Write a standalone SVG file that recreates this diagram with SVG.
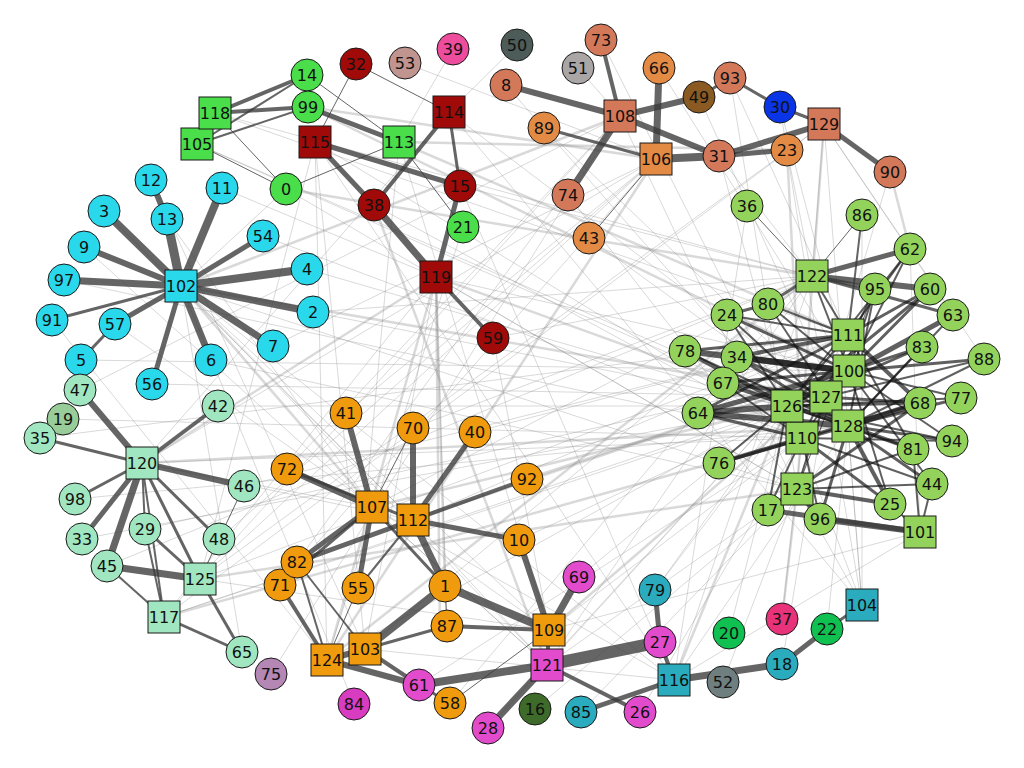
<svg xmlns="http://www.w3.org/2000/svg" width="1024" height="768" viewBox="0 0 1024 768">
<style>
.s{stroke:#3a3a3a;stroke-opacity:.78;fill:none}
.d{stroke:#141414;stroke-opacity:.68}
.f{stroke:#8a8a8a;stroke-opacity:.32;fill:none}
.w1{stroke-width:1}.w2{stroke-width:2}.w3{stroke-width:3}.w4{stroke-width:4}.w5{stroke-width:5}.w6{stroke-width:6}.w7{stroke-width:7}.w8{stroke-width:8}.w9{stroke-width:9}.w12{stroke-width:12}
.f1{stroke-width:1}.f2{stroke-width:2.5}.f3{stroke-width:5}
circle,rect{stroke:#1a1a1a;stroke-width:1}
text{font-family:"DejaVu Sans","Liberation Sans",sans-serif;font-size:16px;fill:#111;text-anchor:middle;dominant-baseline:central}
.cy{fill:#29d8ea}.gr{fill:#4ade4a}.dr{fill:#a00a08}.sa{fill:#d4785a}.or2{fill:#e38b45}.br{fill:#8a5a22}.bl{fill:#0a35e6}
.gy{fill:#aba6a6}.dg{fill:#4d5c58}.rb{fill:#c0958f}.pk{fill:#ee4c9c}.lg{fill:#93d35c}.mi{fill:#a0e6c0}.m19{fill:#98cc98}
.mv{fill:#b487b4}.or{fill:#f09a0d}.mg{fill:#e24ccc}.mg2{fill:#d83cc0}.tl{fill:#2aacbe}.dkg{fill:#3e6b2a}.g2{fill:#6f7f7f}.gn{fill:#10c050}.pr{fill:#e8337a}
</style>
<g id="edges">
<g class="f">
<line x1="308" y1="107" x2="849" y2="371" class="f2"/>
<line x1="215" y1="113" x2="812" y2="276" class="f1"/>
<line x1="399" y1="142" x2="848" y2="335" class="f2"/>
<line x1="315" y1="142" x2="802" y2="438" class="f1"/>
<line x1="449" y1="112" x2="826" y2="397" class="f1"/>
<line x1="436" y1="277" x2="848" y2="426" class="f2"/>
<line x1="436" y1="277" x2="849" y2="371" class="f1"/>
<line x1="436" y1="277" x2="797" y2="489" class="f1"/>
<line x1="436" y1="277" x2="327" y2="660" class="f2"/>
<line x1="436" y1="277" x2="365" y2="649" class="f1"/>
<line x1="436" y1="277" x2="164" y2="617" class="f1"/>
<line x1="436" y1="277" x2="142" y2="463" class="f2"/>
<line x1="436" y1="277" x2="440" y2="640" class="f2"/>
<line x1="181" y1="286" x2="787" y2="406" class="f1"/>
<line x1="181" y1="286" x2="826" y2="397" class="f2"/>
<line x1="181" y1="286" x2="797" y2="489" class="f1"/>
<line x1="181" y1="286" x2="549" y2="630" class="f1"/>
<line x1="181" y1="286" x2="547" y2="665" class="f1"/>
<line x1="181" y1="286" x2="674" y2="680" class="f1"/>
<line x1="197" y1="144" x2="787" y2="406" class="f1"/>
<line x1="197" y1="144" x2="848" y2="426" class="f1"/>
<line x1="215" y1="113" x2="848" y2="335" class="f1"/>
<line x1="286" y1="189" x2="812" y2="276" class="f2"/>
<line x1="286" y1="189" x2="797" y2="489" class="f1"/>
<line x1="374" y1="205" x2="802" y2="438" class="f1"/>
<line x1="374" y1="205" x2="547" y2="665" class="f2"/>
<line x1="460" y1="186" x2="812" y2="276" class="f1"/>
<line x1="460" y1="186" x2="674" y2="680" class="f1"/>
<line x1="463" y1="227" x2="327" y2="660" class="f1"/>
<line x1="399" y1="142" x2="549" y2="630" class="f1"/>
<line x1="449" y1="112" x2="862" y2="605" class="f1"/>
<line x1="449" y1="112" x2="142" y2="463" class="f1"/>
<line x1="315" y1="142" x2="200" y2="579" class="f1"/>
<line x1="315" y1="142" x2="674" y2="680" class="f1"/>
<line x1="372" y1="507" x2="787" y2="406" class="f2"/>
<line x1="372" y1="507" x2="812" y2="276" class="f1"/>
<line x1="413" y1="520" x2="849" y2="371" class="f2"/>
<line x1="413" y1="520" x2="848" y2="335" class="f1"/>
<line x1="413" y1="520" x2="181" y2="286" class="f1"/>
<line x1="372" y1="507" x2="181" y2="286" class="f2"/>
<line x1="372" y1="507" x2="142" y2="463" class="f1"/>
<line x1="413" y1="520" x2="142" y2="463" class="f1"/>
<line x1="142" y1="463" x2="848" y2="426" class="f2"/>
<line x1="142" y1="463" x2="802" y2="438" class="f1"/>
<line x1="200" y1="579" x2="797" y2="489" class="f2"/>
<line x1="200" y1="579" x2="848" y2="335" class="f1"/>
<line x1="164" y1="617" x2="787" y2="406" class="f1"/>
<line x1="200" y1="579" x2="549" y2="630" class="f1"/>
<line x1="656" y1="159" x2="200" y2="579" class="f1"/>
<line x1="656" y1="159" x2="327" y2="660" class="f2"/>
<line x1="656" y1="159" x2="142" y2="463" class="f1"/>
<line x1="620" y1="116" x2="164" y2="617" class="f1"/>
<line x1="620" y1="116" x2="797" y2="489" class="f1"/>
<line x1="620" y1="116" x2="181" y2="286" class="f2"/>
<line x1="824" y1="124" x2="200" y2="579" class="f1"/>
<line x1="824" y1="124" x2="164" y2="617" class="f1"/>
<line x1="824" y1="124" x2="797" y2="489" class="f2"/>
<line x1="824" y1="124" x2="862" y2="605" class="f1"/>
<line x1="812" y1="276" x2="365" y2="649" class="f1"/>
<line x1="812" y1="276" x2="327" y2="660" class="f2"/>
<line x1="812" y1="276" x2="674" y2="680" class="f1"/>
<line x1="812" y1="276" x2="547" y2="665" class="f1"/>
<line x1="848" y1="335" x2="547" y2="665" class="f1"/>
<line x1="849" y1="371" x2="549" y2="630" class="f2"/>
<line x1="848" y1="426" x2="674" y2="680" class="f1"/>
<line x1="787" y1="406" x2="674" y2="680" class="f2"/>
<line x1="802" y1="438" x2="549" y2="630" class="f1"/>
<line x1="797" y1="489" x2="547" y2="665" class="f1"/>
<line x1="797" y1="489" x2="862" y2="605" class="f1"/>
<line x1="826" y1="397" x2="862" y2="605" class="f1"/>
<line x1="787" y1="406" x2="327" y2="660" class="f1"/>
<line x1="826" y1="397" x2="164" y2="617" class="f1"/>
<line x1="802" y1="438" x2="164" y2="617" class="f2"/>
<line x1="674" y1="680" x2="365" y2="649" class="f1"/>
<line x1="674" y1="680" x2="372" y2="507" class="f1"/>
<line x1="547" y1="665" x2="372" y2="507" class="f1"/>
<line x1="547" y1="665" x2="413" y2="520" class="f1"/>
<line x1="589" y1="238" x2="848" y2="426" class="f1"/>
<line x1="544" y1="128" x2="826" y2="397" class="f1"/>
<line x1="568" y1="195" x2="797" y2="489" class="f1"/>
<line x1="506" y1="85" x2="787" y2="406" class="f1"/>
<line x1="601" y1="40" x2="802" y2="438" class="f1"/>
<line x1="659" y1="68" x2="849" y2="371" class="f1"/>
<line x1="699" y1="97" x2="848" y2="426" class="f1"/>
<line x1="730" y1="78" x2="797" y2="489" class="f1"/>
<line x1="787" y1="150" x2="802" y2="438" class="f2"/>
<line x1="780" y1="107" x2="826" y2="397" class="f1"/>
<line x1="890" y1="172" x2="797" y2="489" class="f1"/>
<line x1="747" y1="206" x2="674" y2="680" class="f1"/>
<line x1="862" y1="215" x2="862" y2="605" class="f1"/>
<line x1="910" y1="249" x2="920" y2="532" class="f1"/>
<line x1="920" y1="532" x2="549" y2="630" class="f1"/>
<line x1="920" y1="532" x2="674" y2="680" class="f1"/>
<line x1="862" y1="605" x2="848" y2="426" class="f1"/>
<line x1="862" y1="605" x2="787" y2="406" class="f1"/>
<line x1="782" y1="664" x2="826" y2="397" class="f1"/>
<line x1="782" y1="619" x2="802" y2="438" class="f1"/>
<line x1="782" y1="619" x2="797" y2="489" class="f2"/>
<line x1="827" y1="629" x2="848" y2="426" class="f1"/>
<line x1="729" y1="633" x2="787" y2="406" class="f1"/>
<line x1="723" y1="682" x2="797" y2="489" class="f1"/>
<line x1="655" y1="590" x2="848" y2="335" class="f1"/>
<line x1="655" y1="590" x2="787" y2="406" class="f1"/>
<line x1="581" y1="712" x2="797" y2="489" class="f1"/>
<line x1="640" y1="712" x2="802" y2="438" class="f1"/>
<line x1="579" y1="577" x2="787" y2="406" class="f1"/>
<line x1="519" y1="540" x2="826" y2="397" class="f1"/>
<line x1="527" y1="479" x2="849" y2="371" class="f2"/>
<line x1="475" y1="432" x2="848" y2="335" class="f1"/>
<line x1="413" y1="428" x2="812" y2="276" class="f1"/>
<line x1="346" y1="413" x2="656" y2="159" class="f1"/>
<line x1="287" y1="469" x2="620" y2="116" class="f1"/>
<line x1="297" y1="562" x2="620" y2="116" class="f1"/>
<line x1="280" y1="585" x2="656" y2="159" class="f1"/>
<line x1="358" y1="588" x2="399" y2="142" class="f1"/>
<line x1="447" y1="626" x2="436" y2="277" class="f1"/>
<line x1="445" y1="586" x2="436" y2="277" class="f2"/>
<line x1="450" y1="703" x2="812" y2="276" class="f1"/>
<line x1="419" y1="685" x2="802" y2="438" class="f1"/>
<line x1="488" y1="728" x2="848" y2="335" class="f1"/>
<line x1="535" y1="709" x2="797" y2="489" class="f1"/>
<line x1="354" y1="704" x2="181" y2="286" class="f1"/>
<line x1="327" y1="660" x2="315" y2="142" class="f1"/>
<line x1="365" y1="649" x2="315" y2="142" class="f1"/>
<line x1="242" y1="652" x2="181" y2="286" class="f1"/>
<line x1="271" y1="674" x2="620" y2="116" class="f1"/>
<line x1="219" y1="539" x2="656" y2="159" class="f1"/>
<line x1="244" y1="486" x2="848" y2="335" class="f1"/>
<line x1="218" y1="406" x2="787" y2="406" class="f1"/>
<line x1="145" y1="529" x2="849" y2="371" class="f1"/>
<line x1="107" y1="566" x2="812" y2="276" class="f1"/>
<line x1="82" y1="539" x2="787" y2="406" class="f1"/>
<line x1="75" y1="499" x2="848" y2="426" class="f1"/>
<line x1="40" y1="438" x2="848" y2="335" class="f1"/>
<line x1="63" y1="419" x2="802" y2="438" class="f1"/>
<line x1="80" y1="390" x2="620" y2="116" class="f1"/>
<line x1="152" y1="384" x2="826" y2="397" class="f1"/>
<line x1="211" y1="360" x2="797" y2="489" class="f1"/>
<line x1="273" y1="346" x2="656" y2="159" class="f1"/>
<line x1="313" y1="312" x2="812" y2="276" class="f1"/>
<line x1="307" y1="269" x2="848" y2="426" class="f1"/>
<line x1="263" y1="236" x2="802" y2="438" class="f1"/>
<line x1="222" y1="188" x2="436" y2="277" class="f1"/>
<line x1="167" y1="219" x2="372" y2="507" class="f1"/>
<line x1="151" y1="180" x2="365" y2="649" class="f1"/>
<line x1="104" y1="211" x2="413" y2="520" class="f1"/>
<line x1="84" y1="247" x2="547" y2="665" class="f1"/>
<line x1="64" y1="280" x2="802" y2="438" class="f1"/>
<line x1="52" y1="320" x2="327" y2="660" class="f1"/>
<line x1="115" y1="324" x2="549" y2="630" class="f1"/>
<line x1="81" y1="360" x2="849" y2="371" class="f1"/>
<line x1="493" y1="338" x2="812" y2="276" class="f1"/>
<line x1="493" y1="338" x2="549" y2="630" class="f1"/>
<line x1="286" y1="189" x2="181" y2="286" class="f1"/>
<line x1="405" y1="63" x2="656" y2="159" class="f1"/>
<line x1="453" y1="49" x2="399" y2="142" class="f1"/>
<line x1="517" y1="45" x2="449" y2="112" class="f1"/>
<line x1="578" y1="68" x2="620" y2="116" class="f1"/>
<line x1="719" y1="156" x2="812" y2="276" class="f1"/>
<line x1="787" y1="150" x2="812" y2="276" class="f1"/>
<line x1="780" y1="107" x2="849" y2="371" class="f1"/>
<line x1="730" y1="78" x2="848" y2="335" class="f1"/>
<line x1="824" y1="124" x2="812" y2="276" class="f1"/>
<line x1="890" y1="172" x2="910" y2="249" class="f2"/>
<line x1="308" y1="107" x2="656" y2="159" class="f2"/>
<line x1="399" y1="142" x2="787" y2="150" class="f2"/>
<line x1="824" y1="124" x2="984" y2="359" class="f1"/>
<line x1="824" y1="124" x2="953" y2="315" class="f1"/>
<line x1="719" y1="156" x2="787" y2="406" class="f1"/>
</g>
<g class="s">
<line x1="181" y1="286" x2="167" y2="219" class="w9"/>
<line x1="167" y1="219" x2="151" y2="180" class="w6"/>
<line x1="181" y1="286" x2="104" y2="211" class="w8"/>
<line x1="181" y1="286" x2="84" y2="247" class="w6"/>
<line x1="181" y1="286" x2="64" y2="280" class="w7"/>
<line x1="181" y1="286" x2="52" y2="320" class="w3"/>
<line x1="181" y1="286" x2="115" y2="324" class="w5"/>
<line x1="115" y1="324" x2="81" y2="360" class="w3"/>
<line x1="181" y1="286" x2="152" y2="384" class="w5"/>
<line x1="181" y1="286" x2="211" y2="360" class="w7"/>
<line x1="181" y1="286" x2="273" y2="346" class="w7"/>
<line x1="181" y1="286" x2="313" y2="312" class="w7"/>
<line x1="181" y1="286" x2="307" y2="269" class="w8"/>
<line x1="181" y1="286" x2="263" y2="236" class="w5"/>
<line x1="181" y1="286" x2="222" y2="188" class="w8"/>
<line x1="215" y1="113" x2="307" y2="75" class="w4"/>
<line x1="215" y1="113" x2="308" y2="107" class="w4"/>
<line x1="215" y1="113" x2="286" y2="189" class="w1"/>
<line x1="197" y1="144" x2="307" y2="75" class="w2"/>
<line x1="197" y1="144" x2="308" y2="107" class="w2"/>
<line x1="197" y1="144" x2="286" y2="189" class="w1"/>
<line x1="308" y1="107" x2="399" y2="142" class="w5"/>
<line x1="307" y1="75" x2="399" y2="142" class="w1"/>
<line x1="286" y1="189" x2="399" y2="142" class="w1"/>
<line x1="399" y1="142" x2="463" y2="227" class="w1"/>
<line x1="356" y1="64" x2="315" y2="142" class="w1"/>
<line x1="356" y1="64" x2="449" y2="112" class="w1"/>
<line x1="449" y1="112" x2="374" y2="205" class="w4"/>
<line x1="449" y1="112" x2="460" y2="186" class="w3"/>
<line x1="315" y1="142" x2="374" y2="205" class="w5"/>
<line x1="315" y1="142" x2="460" y2="186" class="w5"/>
<line x1="374" y1="205" x2="436" y2="277" class="w7"/>
<line x1="460" y1="186" x2="436" y2="277" class="w5"/>
<line x1="436" y1="277" x2="493" y2="338" class="w4"/>
<line x1="506" y1="85" x2="620" y2="116" class="w6"/>
<line x1="601" y1="40" x2="620" y2="116" class="w4"/>
<line x1="620" y1="116" x2="699" y2="97" class="w6"/>
<line x1="699" y1="97" x2="730" y2="78" class="w3"/>
<line x1="620" y1="116" x2="568" y2="195" class="w7"/>
<line x1="620" y1="116" x2="719" y2="156" class="w6"/>
<line x1="659" y1="68" x2="656" y2="159" class="w7"/>
<line x1="544" y1="128" x2="656" y2="159" class="w3"/>
<line x1="656" y1="159" x2="719" y2="156" class="w8"/>
<line x1="656" y1="159" x2="589" y2="238" class="w1"/>
<line x1="719" y1="156" x2="787" y2="150" class="w5"/>
<line x1="719" y1="156" x2="824" y2="124" class="w6"/>
<line x1="780" y1="107" x2="824" y2="124" class="w3"/>
<line x1="730" y1="78" x2="780" y2="107" class="w3"/>
<line x1="824" y1="124" x2="890" y2="172" class="w5"/>
<line x1="80" y1="390" x2="142" y2="463" class="w6"/>
<line x1="40" y1="438" x2="142" y2="463" class="w3"/>
<line x1="218" y1="406" x2="142" y2="463" class="w4"/>
<line x1="244" y1="486" x2="142" y2="463" class="w6"/>
<line x1="75" y1="499" x2="142" y2="463" class="w3"/>
<line x1="82" y1="539" x2="142" y2="463" class="w5"/>
<line x1="107" y1="566" x2="142" y2="463" class="w7"/>
<line x1="142" y1="463" x2="145" y2="529" class="w2"/>
<line x1="142" y1="463" x2="200" y2="579" class="w3"/>
<line x1="142" y1="463" x2="164" y2="617" class="w2"/>
<line x1="142" y1="463" x2="219" y2="539" class="w3"/>
<line x1="145" y1="529" x2="200" y2="579" class="w3"/>
<line x1="145" y1="529" x2="164" y2="617" class="w2"/>
<line x1="107" y1="566" x2="200" y2="579" class="w7"/>
<line x1="107" y1="566" x2="164" y2="617" class="w2"/>
<line x1="164" y1="617" x2="242" y2="652" class="w3"/>
<line x1="200" y1="579" x2="242" y2="652" class="w3"/>
<line x1="200" y1="579" x2="219" y2="539" class="w1"/>
<line x1="244" y1="486" x2="219" y2="539" class="w1"/>
<line x1="346" y1="413" x2="372" y2="507" class="w6"/>
<line x1="413" y1="428" x2="372" y2="507" class="w1"/>
<line x1="413" y1="428" x2="413" y2="520" class="w6"/>
<line x1="475" y1="432" x2="413" y2="520" class="w5"/>
<line x1="527" y1="479" x2="413" y2="520" class="w4"/>
<line x1="287" y1="469" x2="372" y2="507" class="w6"/>
<line x1="287" y1="469" x2="413" y2="520" class="w3"/>
<line x1="519" y1="540" x2="413" y2="520" class="w5"/>
<line x1="372" y1="507" x2="297" y2="562" class="w5"/>
<line x1="413" y1="520" x2="297" y2="562" class="w5"/>
<line x1="372" y1="507" x2="280" y2="585" class="w3"/>
<line x1="372" y1="507" x2="358" y2="588" class="w5"/>
<line x1="413" y1="520" x2="358" y2="588" class="w2"/>
<line x1="413" y1="520" x2="445" y2="586" class="w7"/>
<line x1="372" y1="507" x2="445" y2="586" class="w3"/>
<line x1="445" y1="586" x2="365" y2="649" class="w8"/>
<line x1="445" y1="586" x2="447" y2="626" class="w1"/>
<line x1="447" y1="626" x2="365" y2="649" class="w3"/>
<line x1="447" y1="626" x2="549" y2="630" class="w4"/>
<line x1="445" y1="586" x2="549" y2="630" class="w8"/>
<line x1="519" y1="540" x2="549" y2="630" class="w6"/>
<line x1="297" y1="562" x2="327" y2="660" class="w2"/>
<line x1="297" y1="562" x2="365" y2="649" class="w2"/>
<line x1="280" y1="585" x2="327" y2="660" class="w4"/>
<line x1="358" y1="588" x2="327" y2="660" class="w1"/>
<line x1="365" y1="649" x2="327" y2="660" class="w6"/>
<line x1="365" y1="649" x2="419" y2="685" class="w4"/>
<line x1="327" y1="660" x2="419" y2="685" class="w6"/>
<line x1="419" y1="685" x2="450" y2="703" class="w3"/>
<line x1="579" y1="577" x2="549" y2="630" class="w7"/>
<line x1="549" y1="630" x2="547" y2="665" class="w4"/>
<line x1="547" y1="665" x2="660" y2="642" class="w12"/>
<line x1="547" y1="665" x2="419" y2="685" class="w8"/>
<line x1="547" y1="665" x2="488" y2="728" class="w7"/>
<line x1="547" y1="665" x2="640" y2="712" class="w4"/>
<line x1="660" y1="642" x2="655" y2="590" class="w5"/>
<line x1="660" y1="642" x2="674" y2="680" class="w4"/>
<line x1="674" y1="680" x2="581" y2="712" class="w5"/>
<line x1="674" y1="680" x2="782" y2="664" class="w7"/>
<line x1="782" y1="664" x2="827" y2="629" class="w5"/>
<line x1="827" y1="629" x2="862" y2="605" class="w3"/>
<line x1="450" y1="703" x2="549" y2="630" class="w1"/>
<line x1="920" y1="532" x2="820" y2="519" class="w6"/>
<line x1="920" y1="532" x2="768" y2="510" class="w5"/>
<line x1="747" y1="206" x2="812" y2="276" class="w1"/>
<line x1="862" y1="215" x2="812" y2="276" class="w1"/>
<line x1="862" y1="215" x2="848" y2="335" class="w2"/>
<line x1="910" y1="249" x2="812" y2="276" class="w5"/>
<line x1="875" y1="289" x2="812" y2="276" class="w4"/>
<line x1="930" y1="289" x2="812" y2="276" class="w6"/>
<line x1="953" y1="315" x2="812" y2="276" class="w3"/>
<line x1="768" y1="304" x2="812" y2="276" class="w3"/>
<line x1="768" y1="304" x2="727" y2="315" class="w3"/>
<g class="d">
<line x1="910" y1="249" x2="848" y2="335" class="w2"/>
<line x1="930" y1="289" x2="849" y2="371" class="w3"/>
<line x1="953" y1="315" x2="787" y2="406" class="w5"/>
<line x1="930" y1="289" x2="787" y2="406" class="w3"/>
<line x1="922" y1="347" x2="849" y2="371" class="w3"/>
<line x1="922" y1="347" x2="787" y2="406" class="w3"/>
<line x1="984" y1="359" x2="849" y2="371" class="w3"/>
<line x1="984" y1="359" x2="848" y2="426" class="w2"/>
<line x1="961" y1="398" x2="848" y2="426" class="w3"/>
<line x1="961" y1="398" x2="849" y2="371" class="w2"/>
<line x1="920" y1="403" x2="848" y2="426" class="w6"/>
<line x1="920" y1="403" x2="848" y2="335" class="w4"/>
<line x1="920" y1="403" x2="802" y2="438" class="w3"/>
<line x1="920" y1="403" x2="787" y2="406" class="w3"/>
<line x1="952" y1="441" x2="848" y2="426" class="w3"/>
<line x1="952" y1="441" x2="849" y2="371" class="w2"/>
<line x1="913" y1="449" x2="848" y2="426" class="w4"/>
<line x1="913" y1="449" x2="848" y2="335" class="w2"/>
<line x1="932" y1="484" x2="848" y2="426" class="w3"/>
<line x1="932" y1="484" x2="802" y2="438" class="w2"/>
<line x1="890" y1="504" x2="797" y2="489" class="w4"/>
<line x1="890" y1="504" x2="848" y2="426" class="w4"/>
<line x1="890" y1="504" x2="802" y2="438" class="w3"/>
<line x1="820" y1="519" x2="797" y2="489" class="w5"/>
<line x1="820" y1="519" x2="848" y2="426" class="w3"/>
<line x1="768" y1="510" x2="797" y2="489" class="w5"/>
<line x1="768" y1="510" x2="787" y2="406" class="w2"/>
<line x1="719" y1="463" x2="802" y2="438" class="w4"/>
<line x1="719" y1="463" x2="848" y2="426" class="w3"/>
<line x1="698" y1="413" x2="848" y2="426" class="w6"/>
<line x1="698" y1="413" x2="849" y2="371" class="w5"/>
<line x1="698" y1="413" x2="787" y2="406" class="w6"/>
<line x1="698" y1="413" x2="848" y2="335" class="w3"/>
<line x1="723" y1="383" x2="826" y2="397" class="w4"/>
<line x1="723" y1="383" x2="848" y2="426" class="w4"/>
<line x1="723" y1="383" x2="849" y2="371" class="w3"/>
<line x1="737" y1="357" x2="849" y2="371" class="w6"/>
<line x1="737" y1="357" x2="848" y2="335" class="w4"/>
<line x1="737" y1="357" x2="848" y2="426" class="w3"/>
<line x1="737" y1="357" x2="826" y2="397" class="w3"/>
<line x1="685" y1="351" x2="849" y2="371" class="w6"/>
<line x1="685" y1="351" x2="787" y2="406" class="w4"/>
<line x1="685" y1="351" x2="848" y2="335" class="w3"/>
<line x1="727" y1="315" x2="849" y2="371" class="w3"/>
<line x1="727" y1="315" x2="848" y2="426" class="w2"/>
<line x1="768" y1="304" x2="849" y2="371" class="w2"/>
<line x1="727" y1="315" x2="848" y2="335" class="w2"/>
<line x1="812" y1="276" x2="848" y2="335" class="w2"/>
<line x1="812" y1="276" x2="849" y2="371" class="w2"/>
<line x1="875" y1="289" x2="802" y2="438" class="w2"/>
<line x1="875" y1="289" x2="797" y2="489" class="w1"/>
<line x1="910" y1="249" x2="787" y2="406" class="w2"/>
<line x1="797" y1="489" x2="913" y2="449" class="w2"/>
<line x1="797" y1="489" x2="932" y2="484" class="w2"/>
<line x1="797" y1="489" x2="920" y2="403" class="w3"/>
<line x1="802" y1="438" x2="952" y2="441" class="w2"/>
<line x1="826" y1="397" x2="920" y2="403" class="w3"/>
<line x1="920" y1="532" x2="932" y2="484" class="w2"/>
<line x1="920" y1="532" x2="913" y2="449" class="w2"/>
<line x1="920" y1="532" x2="890" y2="504" class="w2"/>
<line x1="848" y1="335" x2="787" y2="406" class="w2"/>
<line x1="849" y1="371" x2="802" y2="438" class="w2"/>
<line x1="826" y1="397" x2="797" y2="489" class="w2"/>
<line x1="768" y1="304" x2="848" y2="426" class="w2"/>
<line x1="875" y1="289" x2="849" y2="371" class="w2"/>
<line x1="727" y1="315" x2="787" y2="406" class="w2"/>
<line x1="768" y1="304" x2="848" y2="335" class="w2"/>
<line x1="685" y1="351" x2="848" y2="426" class="w2"/>
<line x1="723" y1="383" x2="802" y2="438" class="w2"/>
<line x1="698" y1="413" x2="802" y2="438" class="w3"/>
<line x1="719" y1="463" x2="787" y2="406" class="w2"/>
<line x1="768" y1="510" x2="802" y2="438" class="w2"/>
<line x1="820" y1="519" x2="802" y2="438" class="w2"/>
<line x1="922" y1="347" x2="848" y2="426" class="w2"/>
<line x1="953" y1="315" x2="848" y2="426" class="w2"/>
<line x1="930" y1="289" x2="848" y2="335" class="w3"/>
<line x1="875" y1="289" x2="848" y2="426" class="w2"/>
<line x1="910" y1="249" x2="849" y2="371" class="w2"/>
<line x1="984" y1="359" x2="787" y2="406" class="w2"/>
<line x1="961" y1="398" x2="787" y2="406" class="w2"/>
<line x1="952" y1="441" x2="787" y2="406" class="w2"/>
<line x1="913" y1="449" x2="787" y2="406" class="w2"/>
<line x1="932" y1="484" x2="849" y2="371" class="w2"/>
<line x1="890" y1="504" x2="849" y2="371" class="w2"/>
</g>
</g>
</g>
<g id="nodes">
<g id="n0"><circle cx="286" cy="189" r="16" class="gr"/><text x="286" y="189">0</text></g>
<g id="n1"><circle cx="445" cy="586" r="16" class="or"/><text x="445" y="586">1</text></g>
<g id="n2"><circle cx="313" cy="312" r="16" class="cy"/><text x="313" y="312">2</text></g>
<g id="n3"><circle cx="104" cy="211" r="16" class="cy"/><text x="104" y="211">3</text></g>
<g id="n4"><circle cx="307" cy="269" r="16" class="cy"/><text x="307" y="269">4</text></g>
<g id="n5"><circle cx="81" cy="360" r="16" class="cy"/><text x="81" y="360">5</text></g>
<g id="n6"><circle cx="211" cy="360" r="16" class="cy"/><text x="211" y="360">6</text></g>
<g id="n7"><circle cx="273" cy="346" r="16" class="cy"/><text x="273" y="346">7</text></g>
<g id="n8"><circle cx="506" cy="85" r="16" class="sa"/><text x="506" y="85">8</text></g>
<g id="n9"><circle cx="84" cy="247" r="16" class="cy"/><text x="84" y="247">9</text></g>
<g id="n10"><circle cx="519" cy="540" r="16" class="or"/><text x="519" y="540">10</text></g>
<g id="n11"><circle cx="222" cy="188" r="16" class="cy"/><text x="222" y="188">11</text></g>
<g id="n12"><circle cx="151" cy="180" r="16" class="cy"/><text x="151" y="180">12</text></g>
<g id="n13"><circle cx="167" cy="219" r="16" class="cy"/><text x="167" y="219">13</text></g>
<g id="n14"><circle cx="307" cy="75" r="16" class="gr"/><text x="307" y="75">14</text></g>
<g id="n15"><circle cx="460" cy="186" r="16" class="dr"/><text x="460" y="186">15</text></g>
<g id="n16"><circle cx="535" cy="709" r="16" class="dkg"/><text x="535" y="709">16</text></g>
<g id="n17"><circle cx="768" cy="510" r="16" class="lg"/><text x="768" y="510">17</text></g>
<g id="n18"><circle cx="782" cy="664" r="16" class="tl"/><text x="782" y="664">18</text></g>
<g id="n19"><circle cx="63" cy="419" r="16" class="m19"/><text x="63" y="419">19</text></g>
<g id="n20"><circle cx="729" cy="633" r="16" class="gn"/><text x="729" y="633">20</text></g>
<g id="n21"><circle cx="463" cy="227" r="16" class="gr"/><text x="463" y="227">21</text></g>
<g id="n22"><circle cx="827" cy="629" r="16" class="gn"/><text x="827" y="629">22</text></g>
<g id="n23"><circle cx="787" cy="150" r="16" class="or2"/><text x="787" y="150">23</text></g>
<g id="n24"><circle cx="727" cy="315" r="16" class="lg"/><text x="727" y="315">24</text></g>
<g id="n25"><circle cx="890" cy="504" r="16" class="lg"/><text x="890" y="504">25</text></g>
<g id="n26"><circle cx="640" cy="712" r="16" class="mg"/><text x="640" y="712">26</text></g>
<g id="n27"><circle cx="660" cy="642" r="16" class="mg"/><text x="660" y="642">27</text></g>
<g id="n28"><circle cx="488" cy="728" r="16" class="mg"/><text x="488" y="728">28</text></g>
<g id="n29"><circle cx="145" cy="529" r="16" class="mi"/><text x="145" y="529">29</text></g>
<g id="n30"><circle cx="780" cy="107" r="16" class="bl"/><text x="780" y="107">30</text></g>
<g id="n31"><circle cx="719" cy="156" r="16" class="sa"/><text x="719" y="156">31</text></g>
<g id="n32"><circle cx="356" cy="64" r="16" class="dr"/><text x="356" y="64">32</text></g>
<g id="n33"><circle cx="82" cy="539" r="16" class="mi"/><text x="82" y="539">33</text></g>
<g id="n34"><circle cx="737" cy="357" r="16" class="lg"/><text x="737" y="357">34</text></g>
<g id="n35"><circle cx="40" cy="438" r="16" class="mi"/><text x="40" y="438">35</text></g>
<g id="n36"><circle cx="747" cy="206" r="16" class="lg"/><text x="747" y="206">36</text></g>
<g id="n37"><circle cx="782" cy="619" r="16" class="pr"/><text x="782" y="619">37</text></g>
<g id="n38"><circle cx="374" cy="205" r="16" class="dr"/><text x="374" y="205">38</text></g>
<g id="n39"><circle cx="453" cy="49" r="16" class="pk"/><text x="453" y="49">39</text></g>
<g id="n40"><circle cx="475" cy="432" r="16" class="or"/><text x="475" y="432">40</text></g>
<g id="n41"><circle cx="346" cy="413" r="16" class="or"/><text x="346" y="413">41</text></g>
<g id="n42"><circle cx="218" cy="406" r="16" class="mi"/><text x="218" y="406">42</text></g>
<g id="n43"><circle cx="589" cy="238" r="16" class="or2"/><text x="589" y="238">43</text></g>
<g id="n44"><circle cx="932" cy="484" r="16" class="lg"/><text x="932" y="484">44</text></g>
<g id="n45"><circle cx="107" cy="566" r="16" class="mi"/><text x="107" y="566">45</text></g>
<g id="n46"><circle cx="244" cy="486" r="16" class="mi"/><text x="244" y="486">46</text></g>
<g id="n47"><circle cx="80" cy="390" r="16" class="mi"/><text x="80" y="390">47</text></g>
<g id="n48"><circle cx="219" cy="539" r="16" class="mi"/><text x="219" y="539">48</text></g>
<g id="n49"><circle cx="699" cy="97" r="16" class="br"/><text x="699" y="97">49</text></g>
<g id="n50"><circle cx="517" cy="45" r="16" class="dg"/><text x="517" y="45">50</text></g>
<g id="n51"><circle cx="578" cy="68" r="16" class="gy"/><text x="578" y="68">51</text></g>
<g id="n52"><circle cx="723" cy="682" r="16" class="g2"/><text x="723" y="682">52</text></g>
<g id="n53"><circle cx="405" cy="63" r="16" class="rb"/><text x="405" y="63">53</text></g>
<g id="n54"><circle cx="263" cy="236" r="16" class="cy"/><text x="263" y="236">54</text></g>
<g id="n55"><circle cx="358" cy="588" r="16" class="or"/><text x="358" y="588">55</text></g>
<g id="n56"><circle cx="152" cy="384" r="16" class="cy"/><text x="152" y="384">56</text></g>
<g id="n57"><circle cx="115" cy="324" r="16" class="cy"/><text x="115" y="324">57</text></g>
<g id="n58"><circle cx="450" cy="703" r="16" class="or"/><text x="450" y="703">58</text></g>
<g id="n59"><circle cx="493" cy="338" r="16" class="dr"/><text x="493" y="338">59</text></g>
<g id="n60"><circle cx="930" cy="289" r="16" class="lg"/><text x="930" y="289">60</text></g>
<g id="n61"><circle cx="419" cy="685" r="16" class="mg"/><text x="419" y="685">61</text></g>
<g id="n62"><circle cx="910" cy="249" r="16" class="lg"/><text x="910" y="249">62</text></g>
<g id="n63"><circle cx="953" cy="315" r="16" class="lg"/><text x="953" y="315">63</text></g>
<g id="n64"><circle cx="698" cy="413" r="16" class="lg"/><text x="698" y="413">64</text></g>
<g id="n65"><circle cx="242" cy="652" r="16" class="mi"/><text x="242" y="652">65</text></g>
<g id="n66"><circle cx="659" cy="68" r="16" class="or2"/><text x="659" y="68">66</text></g>
<g id="n67"><circle cx="723" cy="383" r="16" class="lg"/><text x="723" y="383">67</text></g>
<g id="n68"><circle cx="920" cy="403" r="16" class="lg"/><text x="920" y="403">68</text></g>
<g id="n69"><circle cx="579" cy="577" r="16" class="mg"/><text x="579" y="577">69</text></g>
<g id="n70"><circle cx="413" cy="428" r="16" class="or"/><text x="413" y="428">70</text></g>
<g id="n71"><circle cx="280" cy="585" r="16" class="or"/><text x="280" y="585">71</text></g>
<g id="n72"><circle cx="287" cy="469" r="16" class="or"/><text x="287" y="469">72</text></g>
<g id="n73"><circle cx="601" cy="40" r="16" class="sa"/><text x="601" y="40">73</text></g>
<g id="n74"><circle cx="568" cy="195" r="16" class="sa"/><text x="568" y="195">74</text></g>
<g id="n75"><circle cx="271" cy="674" r="16" class="mv"/><text x="271" y="674">75</text></g>
<g id="n76"><circle cx="719" cy="463" r="16" class="lg"/><text x="719" y="463">76</text></g>
<g id="n77"><circle cx="961" cy="398" r="16" class="lg"/><text x="961" y="398">77</text></g>
<g id="n78"><circle cx="685" cy="351" r="16" class="lg"/><text x="685" y="351">78</text></g>
<g id="n79"><circle cx="655" cy="590" r="16" class="tl"/><text x="655" y="590">79</text></g>
<g id="n80"><circle cx="768" cy="304" r="16" class="lg"/><text x="768" y="304">80</text></g>
<g id="n81"><circle cx="913" cy="449" r="16" class="lg"/><text x="913" y="449">81</text></g>
<g id="n82"><circle cx="297" cy="562" r="16" class="or"/><text x="297" y="562">82</text></g>
<g id="n83"><circle cx="922" cy="347" r="16" class="lg"/><text x="922" y="347">83</text></g>
<g id="n84"><circle cx="354" cy="704" r="16" class="mg2"/><text x="354" y="704">84</text></g>
<g id="n85"><circle cx="581" cy="712" r="16" class="tl"/><text x="581" y="712">85</text></g>
<g id="n86"><circle cx="862" cy="215" r="16" class="lg"/><text x="862" y="215">86</text></g>
<g id="n87"><circle cx="447" cy="626" r="16" class="or"/><text x="447" y="626">87</text></g>
<g id="n88"><circle cx="984" cy="359" r="16" class="lg"/><text x="984" y="359">88</text></g>
<g id="n89"><circle cx="544" cy="128" r="16" class="or2"/><text x="544" y="128">89</text></g>
<g id="n90"><circle cx="890" cy="172" r="16" class="sa"/><text x="890" y="172">90</text></g>
<g id="n91"><circle cx="52" cy="320" r="16" class="cy"/><text x="52" y="320">91</text></g>
<g id="n92"><circle cx="527" cy="479" r="16" class="or"/><text x="527" y="479">92</text></g>
<g id="n93"><circle cx="730" cy="78" r="16" class="sa"/><text x="730" y="78">93</text></g>
<g id="n94"><circle cx="952" cy="441" r="16" class="lg"/><text x="952" y="441">94</text></g>
<g id="n95"><circle cx="875" cy="289" r="16" class="lg"/><text x="875" y="289">95</text></g>
<g id="n96"><circle cx="820" cy="519" r="16" class="lg"/><text x="820" y="519">96</text></g>
<g id="n97"><circle cx="64" cy="280" r="16" class="cy"/><text x="64" y="280">97</text></g>
<g id="n98"><circle cx="75" cy="499" r="16" class="mi"/><text x="75" y="499">98</text></g>
<g id="n99"><circle cx="308" cy="107" r="16" class="gr"/><text x="308" y="107">99</text></g>
<g id="n100"><rect x="833" y="355" width="32" height="32" class="lg"/><text x="849" y="371">100</text></g>
<g id="n101"><rect x="904" y="516" width="32" height="32" class="lg"/><text x="920" y="532">101</text></g>
<g id="n102"><rect x="165" y="270" width="32" height="32" class="cy"/><text x="181" y="286">102</text></g>
<g id="n103"><rect x="349" y="633" width="32" height="32" class="or"/><text x="365" y="649">103</text></g>
<g id="n104"><rect x="846" y="589" width="32" height="32" class="tl"/><text x="862" y="605">104</text></g>
<g id="n105"><rect x="181" y="128" width="32" height="32" class="gr"/><text x="197" y="144">105</text></g>
<g id="n106"><rect x="640" y="143" width="32" height="32" class="or2"/><text x="656" y="159">106</text></g>
<g id="n107"><rect x="356" y="491" width="32" height="32" class="or"/><text x="372" y="507">107</text></g>
<g id="n108"><rect x="604" y="100" width="32" height="32" class="sa"/><text x="620" y="116">108</text></g>
<g id="n109"><rect x="533" y="614" width="32" height="32" class="or"/><text x="549" y="630">109</text></g>
<g id="n110"><rect x="786" y="422" width="32" height="32" class="lg"/><text x="802" y="438">110</text></g>
<g id="n111"><rect x="832" y="319" width="32" height="32" class="lg"/><text x="848" y="335">111</text></g>
<g id="n112"><rect x="397" y="504" width="32" height="32" class="or"/><text x="413" y="520">112</text></g>
<g id="n113"><rect x="383" y="126" width="32" height="32" class="gr"/><text x="399" y="142">113</text></g>
<g id="n114"><rect x="433" y="96" width="32" height="32" class="dr"/><text x="449" y="112">114</text></g>
<g id="n115"><rect x="299" y="126" width="32" height="32" class="dr"/><text x="315" y="142">115</text></g>
<g id="n116"><rect x="658" y="664" width="32" height="32" class="tl"/><text x="674" y="680">116</text></g>
<g id="n117"><rect x="148" y="601" width="32" height="32" class="mi"/><text x="164" y="617">117</text></g>
<g id="n118"><rect x="199" y="97" width="32" height="32" class="gr"/><text x="215" y="113">118</text></g>
<g id="n119"><rect x="420" y="261" width="32" height="32" class="dr"/><text x="436" y="277">119</text></g>
<g id="n120"><rect x="126" y="447" width="32" height="32" class="mi"/><text x="142" y="463">120</text></g>
<g id="n121"><rect x="531" y="649" width="32" height="32" class="mg"/><text x="547" y="665">121</text></g>
<g id="n122"><rect x="796" y="260" width="32" height="32" class="lg"/><text x="812" y="276">122</text></g>
<g id="n123"><rect x="781" y="473" width="32" height="32" class="lg"/><text x="797" y="489">123</text></g>
<g id="n124"><rect x="311" y="644" width="32" height="32" class="or"/><text x="327" y="660">124</text></g>
<g id="n125"><rect x="184" y="563" width="32" height="32" class="mi"/><text x="200" y="579">125</text></g>
<g id="n126"><rect x="771" y="390" width="32" height="32" class="lg"/><text x="787" y="406">126</text></g>
<g id="n127"><rect x="810" y="381" width="32" height="32" class="lg"/><text x="826" y="397">127</text></g>
<g id="n128"><rect x="832" y="410" width="32" height="32" class="lg"/><text x="848" y="426">128</text></g>
<g id="n129"><rect x="808" y="108" width="32" height="32" class="sa"/><text x="824" y="124">129</text></g>
</g>
</svg>
